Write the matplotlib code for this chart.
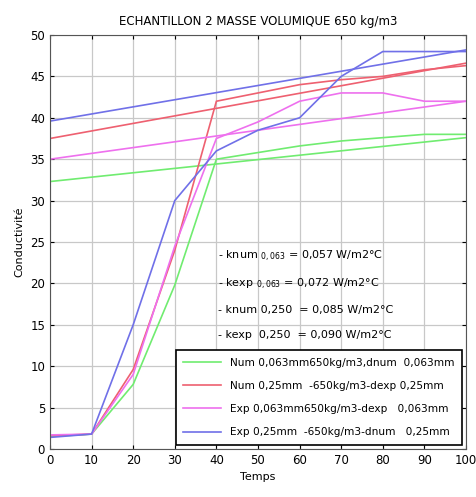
import numpy as np
import matplotlib
matplotlib.use('Agg')
import matplotlib.pyplot as plt

temps = [0, 10, 20, 30, 40, 50, 60, 70, 80, 90, 100]

# curves (in legend)
num_063 = [1.5, 1.8, 7.8, 19.8, 35.0, 35.8, 36.6, 37.2, 37.6, 38.0, 38.0]
num_250 = [1.6, 1.8, 9.6, 24.0, 42.0, 43.0, 44.0, 44.6, 45.0, 45.8, 46.3]
exp_063 = [1.7, 1.8, 9.0, 24.5, 37.5, 39.5, 42.0, 43.0, 43.0, 42.0, 42.0]
exp_250 = [1.4, 1.8, 15.0, 30.0, 36.0, 38.5, 40.0, 45.0, 48.0, 48.0, 48.0]

# straight reference lines (start, end)
lin_x = [0, 100]
lin_num_063 = [32.3, 37.6]
lin_num_250 = [37.5, 46.6]
lin_exp_063 = [35.0, 42.0]
lin_exp_250 = [39.6, 48.2]

labels = ['Num 0,063mm650kg/m3,dnum  0,063mm',
          'Num 0,25mm  -650kg/m3-dexp 0,25mm',
          'Exp 0,063mm650kg/m3-dexp   0,063mm',
          'Exp 0,25mm  -650kg/m3-dnum   0,25mm']
colors = ['#70ec70', '#ee6070', '#ee70ee', '#7070e8']

fig = plt.figure(figsize=(4.76, 4.97), dpi=100)
ax = fig.add_axes([0.105, 0.0966, 0.874, 0.833])

curves = [num_063, num_250, exp_063, exp_250]
lines = [lin_num_063, lin_num_250, lin_exp_063, lin_exp_250]
for c, l, col, lab in zip(curves, lines, colors, labels):
    ax.plot(temps, c, color=col, lw=1.2, label=lab)
    ax.plot(lin_x, l, color=col, lw=1.2)

ax.set_xlim(0, 100)
ax.set_ylim(0, 50)
ax.set_xticks(range(0, 101, 10))
ax.set_yticks(range(0, 51, 5))
ax.grid(True, color='#c8c8c8', lw=0.9)
ax.tick_params(direction='in', top=True, right=True, labelsize=8.5, length=3)
for s in ax.spines.values():
    s.set_color('#555555')

ax.set_title('ECHANTILLON 2 MASSE VOLUMIQUE 650 kg/m3', fontsize=8.5, pad=7)
ax.set_xlabel('Temps', fontsize=8)
ax.set_ylabel('Conductivité', fontsize=8)

fs = 8
ax.text(40.5, 23.2, r'- knum $_{0,063}$ = 0,057 W/m2°C', fontsize=fs, va='center')
ax.text(40.5, 19.9, r'- kexp $_{0,063}$ = 0,072 W/m2°C', fontsize=fs, va='center')
ax.text(40.5, 16.8, '- knum 0,250  = 0,085 W/m2°C', fontsize=fs, va='center')
ax.text(40.5, 13.8, '- kexp  0,250  = 0,090 W/m2°C', fontsize=fs, va='center')

leg = ax.legend(loc='lower right', fontsize=7.6, frameon=True, fancybox=False,
                edgecolor='black', framealpha=1, handlelength=3.6,
                borderaxespad=0.4, labelspacing=1.25, borderpad=0.7)
leg.get_frame().set_linewidth(1.2)

fig.savefig('out.png', dpi=100)
